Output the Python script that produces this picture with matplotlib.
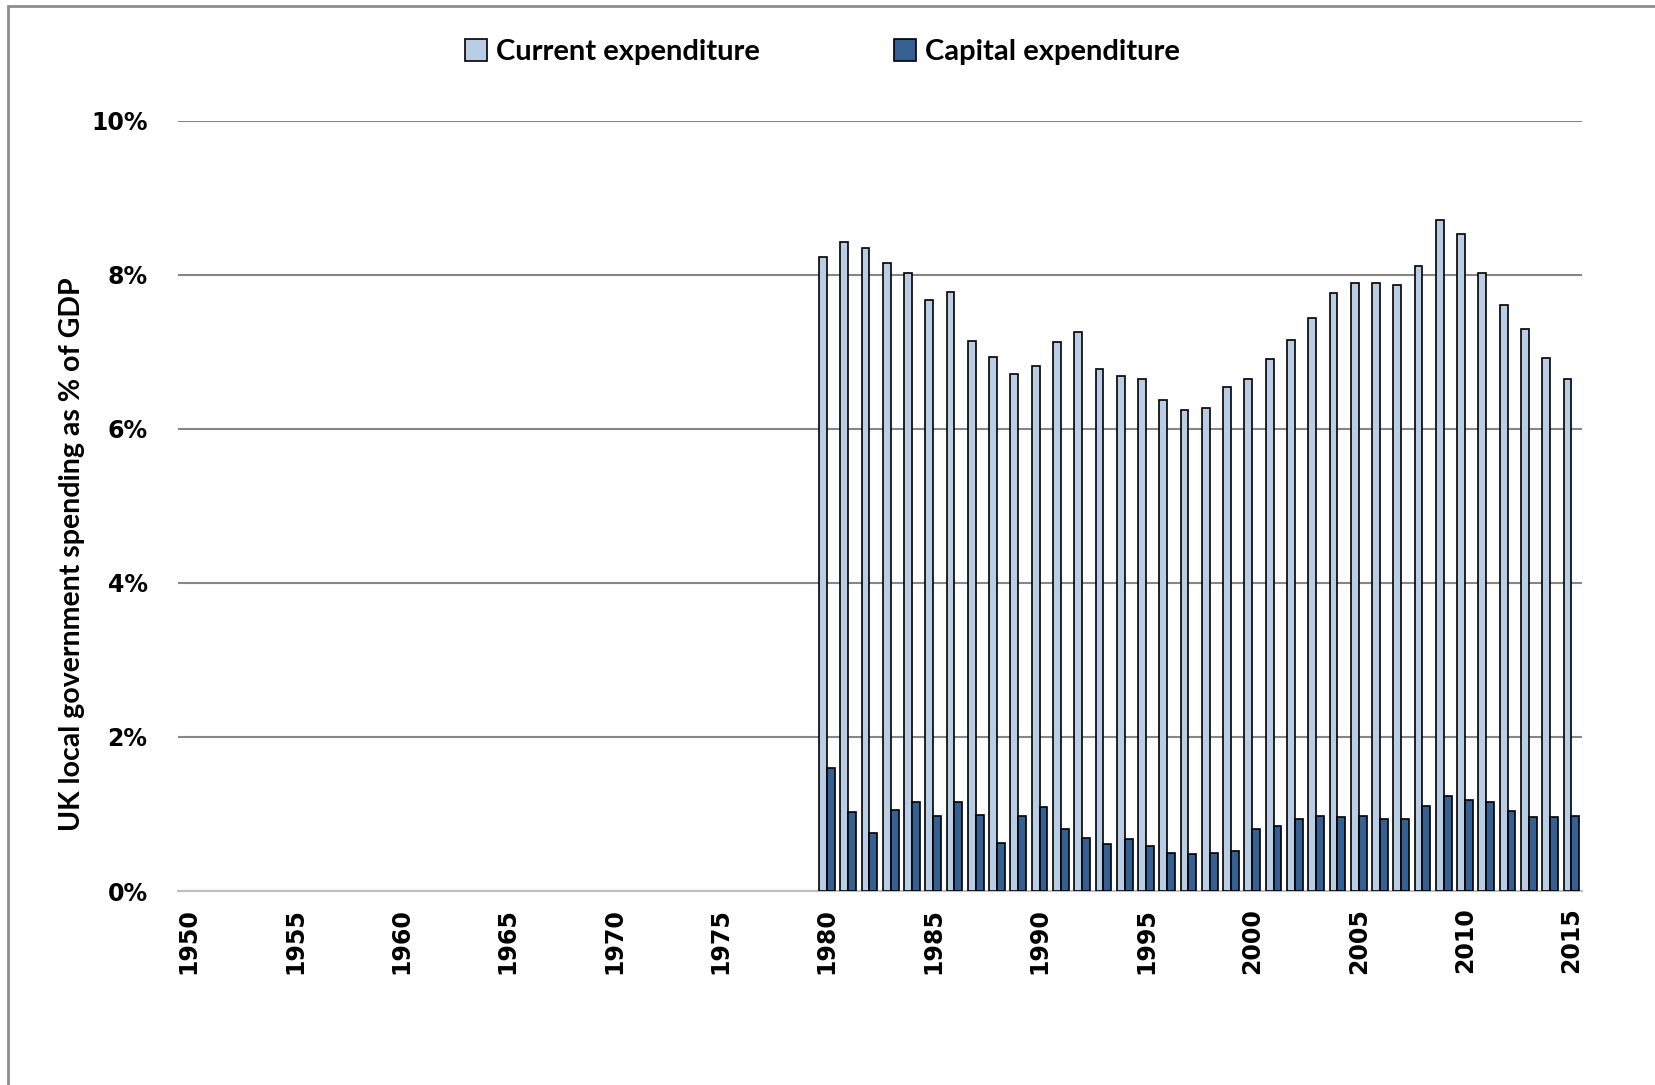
import numpy as np
import matplotlib.pyplot as plt
from matplotlib.patches import Rectangle

# UK local government spending, % of GDP
years = list(range(1950, 2016))
data_years = list(range(1980, 2016))
current = [8.23, 8.43, 8.35, 8.15, 8.02, 7.68, 7.78, 7.14, 6.94, 6.71,
           6.82, 7.13, 7.26, 6.78, 6.69, 6.65, 6.38, 6.25, 6.27, 6.54,
           6.65, 6.91, 7.16, 7.44, 7.77, 7.90, 7.89, 7.87, 8.12, 8.71,
           8.53, 8.02, 7.61, 7.30, 6.92, 6.65]
capital = [1.60, 1.03, 0.75, 1.05, 1.15, 0.97, 1.15, 0.99, 0.62, 0.97,
           1.09, 0.81, 0.69, 0.61, 0.68, 0.59, 0.49, 0.48, 0.50, 0.52,
           0.80, 0.84, 0.94, 0.97, 0.96, 0.97, 0.94, 0.93, 1.11, 1.24,
           1.18, 1.16, 1.04, 0.96, 0.96, 0.98]
tick_years = list(range(1950, 2016, 5))


def main():
    fig = plt.figure(figsize=(16.55, 10.85), dpi=100)
    ax = fig.add_axes([0.1076, 0.1788, 0.9559 - 0.1076, 0.8885 - 0.1788])

    x = np.array([years.index(y) for y in data_years])
    w = 0.37
    ax.bar(x - w / 2, current, width=w, color='#B9CDE5', edgecolor='black',
           linewidth=1.2, label='Current expenditure', zorder=3)
    ax.bar(x + w / 2, capital, width=w, color='#376092', edgecolor='black',
           linewidth=1.2, label='Capital expenditure', zorder=3)

    ax.set_xlim(-0.5, len(years) - 0.5)
    ax.set_ylim(0, 10)
    ax.set_yticks(range(0, 11, 2))
    ax.set_yticklabels(['{}%'.format(v) for v in range(0, 11, 2)],
                       fontsize=17, fontweight='bold')
    ax.set_xticks([years.index(y) for y in tick_years])
    ax.set_xticklabels([str(y) for y in tick_years], rotation=90,
                       fontsize=17, fontweight='bold')
    ax.tick_params(axis='both', length=0)
    ax.tick_params(axis='x', pad=12)
    ax.tick_params(axis='y', pad=22)

    ax.grid(axis='y', color='#868686', linewidth=1.5, zorder=0)
    for side in ['top', 'right', 'left']:
        ax.spines[side].set_visible(False)
    ax.spines['bottom'].set_color('#BFBFBF')
    ax.spines['bottom'].set_linewidth(1.5)

    fig.text(0.0435, 0.489, 'UK local government spending as % of GDP',
             rotation=90, ha='center', va='center', fontsize=20.5,
             fontweight='bold', family='Lato')

    fig.legend(loc='center', bbox_to_anchor=(0.497, 0.952), ncol=2,
               frameon=False, prop={'family': 'Lato', 'weight': 'bold',
                                    'size': 21},
               handlelength=0.75, handleheight=0.75, handletextpad=0.3,
               columnspacing=4.6)

    # grey frame round the chart area
    fig.patches.append(Rectangle((8 / 1655, -0.1), 1.2, 1.1 - 6 / 1085,
                                 transform=fig.transFigure, fill=False,
                                 edgecolor='#8C8C8C', linewidth=2))

    fig.savefig('out.png', dpi=100)


main()
